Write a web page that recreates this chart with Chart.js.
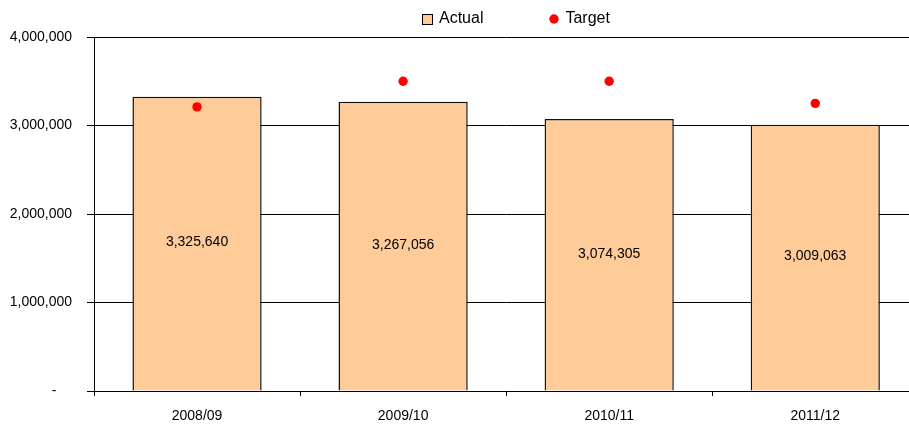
<!DOCTYPE html>
<html><head><meta charset="utf-8">
<script src="https://cdn.jsdelivr.net/npm/chart.js@4"></script>
<style>html,body{margin:0;padding:0;overflow:hidden;background:#fff}canvas{display:block}</style>
</head><body>
<canvas id="c" width="923" height="427"></canvas>
<script>
const categories = ['2008/09', '2009/10', '2010/11', '2011/12'];
const actualValues = [3325640, 3267056, 3074305, 3009063];
const targetValues = [3210000, 3500000, 3500000, 3250000];
const yTickValues = [0, 1000000, 2000000, 3000000, 4000000];
const seriesNames = ['Actual', 'Target'];

const FONT = "'Liberation Sans', Arial, sans-serif";
const BAR_FILL = '#FFCC99';
const DOT_COLOR = '#FF0000';
const fmt = v => Number(v).toLocaleString('en-US');

const barLabels = {
  id: 'barLabels',
  afterDatasetsDraw(chart) {
    const ctx = chart.ctx;
    const meta = chart.getDatasetMeta(0);
    ctx.save();
    ctx.font = '14px ' + FONT;
    ctx.fillStyle = '#000';
    ctx.textAlign = 'center';
    ctx.textBaseline = 'middle';
    meta.data.forEach((bar, i) => {
      const p = bar.getProps(['x', 'y', 'base'], true);
      ctx.fillText(fmt(actualValues[i]), p.x, (p.y + p.base) / 2 - 1);
    });
    ctx.restore();
  }
};

const customLegend = {
  id: 'customLegend',
  afterDraw(chart) {
    const ctx = chart.ctx;
    ctx.save();
    ctx.font = '16px ' + FONT;
    const w1 = ctx.measureText(seriesNames[0]).width;
    const w2 = ctx.measureText(seriesNames[1]).width;
    const box = 11, gap = 6, between = 65;
    const total = box + gap + w1 + between + box + gap + w2;
    const cx = 516, cy = 19;
    let x = Math.round(cx - total / 2);
    ctx.fillStyle = BAR_FILL;
    ctx.strokeStyle = '#000';
    ctx.lineWidth = 1;
    ctx.fillRect(x + 0.5, cy - 5 + 0.5, box - 1, box - 1);
    ctx.strokeRect(x + 0.5, cy - 5 + 0.5, box - 1, box - 1);
    ctx.fillStyle = '#000';
    ctx.textAlign = 'left';
    ctx.textBaseline = 'middle';
    ctx.fillText(seriesNames[0], x + box + gap, cy);
    let x2 = x + box + gap + w1 + between;
    ctx.fillStyle = DOT_COLOR;
    ctx.beginPath();
    ctx.arc(x2 + box / 2, cy, 4.7, 0, Math.PI * 2);
    ctx.fill();
    ctx.fillStyle = '#000';
    ctx.fillText(seriesNames[1], x2 + box + gap, cy);
    ctx.restore();
  }
};

new Chart(document.getElementById('c'), {
  type: 'bar',
  data: {
    labels: categories,
    datasets: [
      {
        label: seriesNames[0],
        data: actualValues,
        backgroundColor: BAR_FILL,
        borderColor: '#111',
        borderWidth: 1.5,
        barPercentage: 0.627,
        categoryPercentage: 1,
        order: 1
      },
      {
        type: 'line',
        label: seriesNames[1],
        data: targetValues,
        showLine: false,
        pointRadius: 4.7,
        pointBackgroundColor: DOT_COLOR,
        pointBorderWidth: 0,
        pointBorderColor: DOT_COLOR,
        order: 0
      }
    ]
  },
  options: {
    responsive: false,
    animation: false,
    layout: { padding: { top: 37, right: 0, bottom: 0, left: 0 } },
    plugins: { legend: { display: false }, tooltip: { enabled: false } },
    scales: {
      x: {
        offset: true,
        grid: { offset: true, drawOnChartArea: false, drawTicks: true, tickLength: 5, color: '#000', lineWidth: 1 },
        border: { color: '#000', width: 1 },
        ticks: { color: '#000', font: { family: FONT, size: 14 }, padding: 12, maxRotation: 0 },
        afterFit(s) { s.height = 36; }
      },
      y: {
        min: 0,
        max: 4000000,
        afterBuildTicks(s) { s.ticks = yTickValues.map(v => ({ value: v })); },
        ticks: {
          color: '#000',
          font: { family: FONT, size: 14 },
          padding: 15,
          callback: v => (v === 0 ? '-    ' : fmt(v))
        },
        grid: { color: '#000', lineWidth: 1, tickLength: 7, drawTicks: true },
        border: { color: '#000', width: 1 },
        afterFit(s) { s.width = 94; }
      }
    }
  },
  plugins: [barLabels, customLegend]
});
</script>
</body></html>
